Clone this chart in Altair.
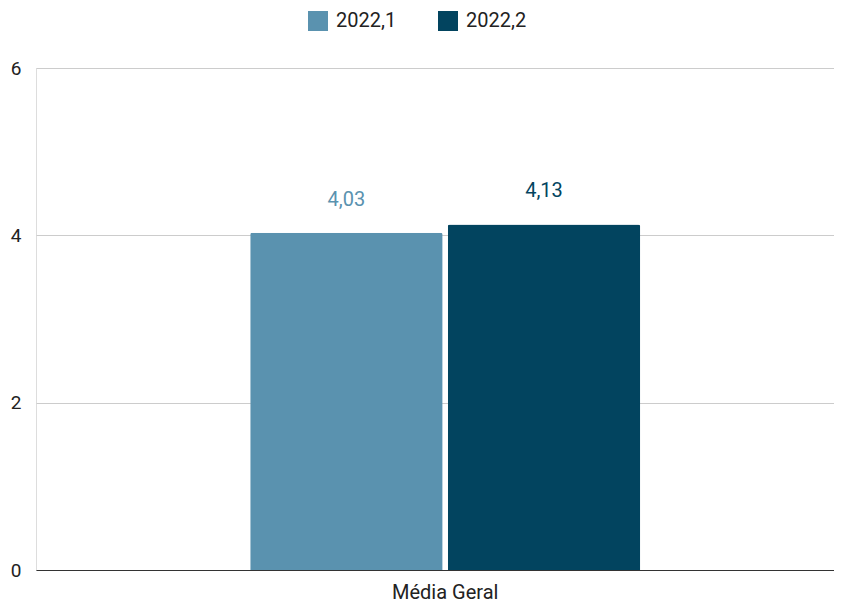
import altair as alt
import pandas as pd

categories = ["Média Geral", "Média Geral"]
series = ["2022,1", "2022,2"]
values = [4.03, 4.13]
colors = ["#5a92af", "#02445f"]
y_ticks = [0, 2, 4, 6]

labels = [f"{v:.2f}".replace(".", ",") for v in values]
df = pd.DataFrame({"cat": categories, "serie": series, "valor": values, "rotulo": labels})

FONT = "Roboto"

color_scale = alt.Scale(domain=series, range=colors)

base = alt.Chart(df).encode(
    x=alt.X("cat:N", title=None,
            scale=alt.Scale(paddingInner=0, paddingOuter=0.523, align=0.525),
            axis=alt.Axis(labelAngle=0, labelFont=FONT, labelFontSize=20, labelColor="#222",
                          labelPadding=12, ticks=False, domainColor="#333", domainWidth=1.2)),
    xOffset=alt.XOffset("serie:N", scale=alt.Scale(paddingInner=0.026)),
    y=alt.Y("valor:Q", title=None,
            scale=alt.Scale(domain=[0, 6]),
            axis=alt.Axis(values=y_ticks, labelFont=FONT, labelFontSize=19, labelColor="#222",
                          labelPadding=15, ticks=False, domain=False, gridColor="#cccccc",
                          gridWidth=1)),
)

bars = base.mark_bar(cornerRadiusTopLeft=2, cornerRadiusTopRight=2).encode(
    color=alt.Color("serie:N", scale=color_scale, title=None,
                    legend=alt.Legend(orient="none", direction="horizontal", legendX=272, legendY=-57,
                                      symbolType="square", symbolSize=400, symbolStrokeWidth=0,
                                      labelFont=FONT, labelFontSize=20, labelColor="#222",
                                      labelOffset=8, columnPadding=41))
)

text = base.mark_text(dy=-33, font=FONT, fontSize=20, baseline="middle").encode(
    text="rotulo:N",
    color=alt.Color("serie:N", scale=color_scale, legend=None),
)

chart = (bars + text).properties(
    width=798, height=502,
    autosize=alt.AutoSizeParams(type="none"),
    padding={"left": 28, "top": 60, "right": 0, "bottom": 34},
).configure_view(stroke=None).configure(background="white")

chart.save("out.html", embed_options={"renderer": "svg", "actions": False})
